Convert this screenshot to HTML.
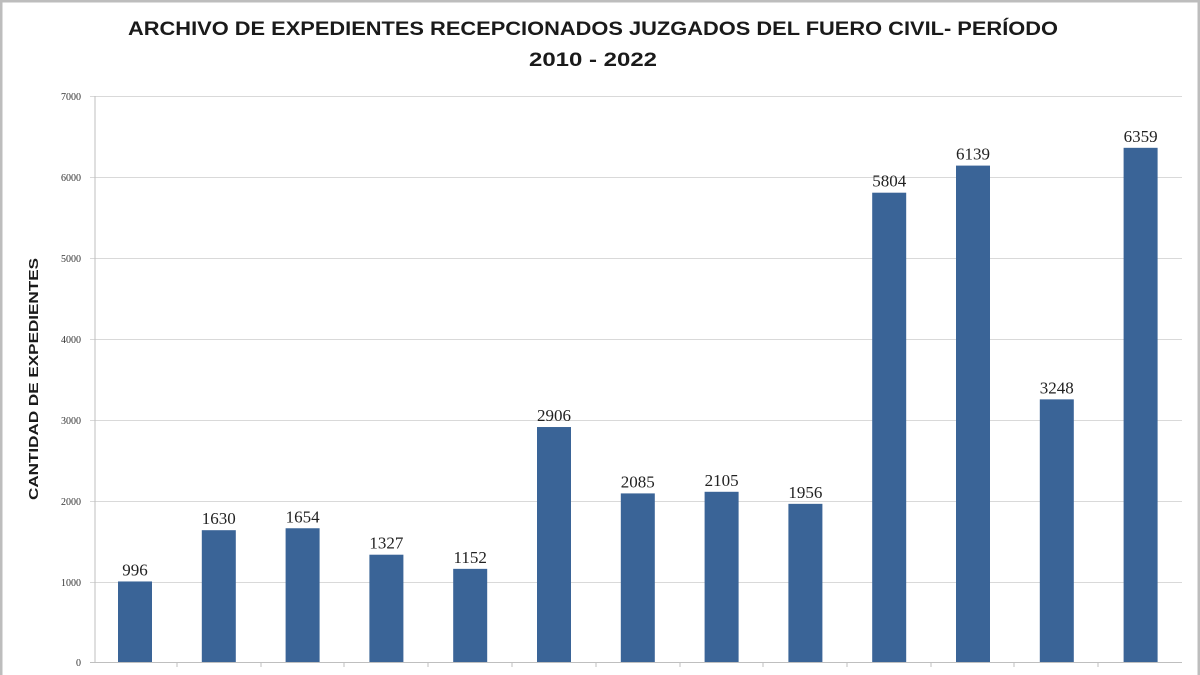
<!DOCTYPE html>
<html><head><meta charset="utf-8"><style>html,body{margin:0;padding:0;background:#fff}svg{display:block}</style></head><body>
<svg width="1200" height="675" viewBox="0 0 1200 675" xmlns="http://www.w3.org/2000/svg">
<rect x="0" y="0" width="1200" height="675" fill="#fff"/>
<rect x="1" y="1" width="1198" height="680" fill="none" stroke="#bdbdbd" stroke-width="3"/>
<g font-family="Liberation Sans, sans-serif" font-weight="bold" fill="#1a1a1a" font-size="19">
<text x="128" y="35" textLength="930" lengthAdjust="spacingAndGlyphs">ARCHIVO DE EXPEDIENTES RECEPCIONADOS JUZGADOS DEL FUERO CIVIL- PERÍODO</text>
<text x="593" y="66" text-anchor="middle" textLength="128" lengthAdjust="spacingAndGlyphs">2010 - 2022</text>
</g>
<g stroke="#d9d9d9" stroke-width="1">
<line x1="90" y1="96.5" x2="1182" y2="96.5"/><line x1="90" y1="177.5" x2="1182" y2="177.5"/>
<line x1="90" y1="258.5" x2="1182" y2="258.5"/><line x1="90" y1="339.5" x2="1182" y2="339.5"/>
<line x1="90" y1="420.5" x2="1182" y2="420.5"/><line x1="90" y1="501.5" x2="1182" y2="501.5"/>
<line x1="90" y1="582.5" x2="1182" y2="582.5"/>
</g>
<line x1="95" y1="96" x2="95" y2="662" stroke="#bfbfbf"/>
<line x1="90" y1="662.5" x2="1182" y2="662.5" stroke="#bfbfbf"/>
<g stroke="#bfbfbf">
<line x1="177" y1="662" x2="177" y2="667"/><line x1="261" y1="662" x2="261" y2="667"/><line x1="344" y1="662" x2="344" y2="667"/><line x1="428" y1="662" x2="428" y2="667"/><line x1="512" y1="662" x2="512" y2="667"/><line x1="596" y1="662" x2="596" y2="667"/><line x1="680" y1="662" x2="680" y2="667"/><line x1="763" y1="662" x2="763" y2="667"/><line x1="847" y1="662" x2="847" y2="667"/><line x1="931" y1="662" x2="931" y2="667"/><line x1="1014" y1="662" x2="1014" y2="667"/><line x1="1098" y1="662" x2="1098" y2="667"/>
</g>
<g font-family="Liberation Serif, serif" font-size="10" fill="#333" text-anchor="end">
<text x="81" y="100">7000</text><text x="81" y="181">6000</text><text x="81" y="262">5000</text><text x="81" y="343">4000</text><text x="81" y="424">3000</text><text x="81" y="505">2000</text><text x="81" y="586">1000</text><text x="81" y="666">0</text>
</g>
<text transform="translate(38,379) rotate(-90)" text-anchor="middle" font-family="Liberation Sans, sans-serif" font-weight="bold" font-size="13" fill="#1a1a1a" textLength="242" lengthAdjust="spacingAndGlyphs">CANTIDAD DE EXPEDIENTES</text>
<g fill="#3a6497" id="bars"></g>
<g font-family="Liberation Serif, serif" font-size="17" fill="#222" text-anchor="middle" id="labels"></g>
<script>
var v=[996,1630,1654,1327,1152,2906,2085,2105,1956,5804,6139,3248,6359];
var b=document.getElementById('bars'),l=document.getElementById('labels'),ns='http://www.w3.org/2000/svg';
v.forEach(function(d,i){var cx=135+i*83.8,h=d*0.08086,y=662-h;
var r=document.createElementNS(ns,'rect');r.setAttribute('x',cx-17);r.setAttribute('y',y);r.setAttribute('width',34);r.setAttribute('height',h);b.appendChild(r);
var t=document.createElementNS(ns,'text');t.setAttribute('x',cx);t.setAttribute('y',y-6);t.textContent=d;l.appendChild(t);});
</script>
</svg>
</body></html>
